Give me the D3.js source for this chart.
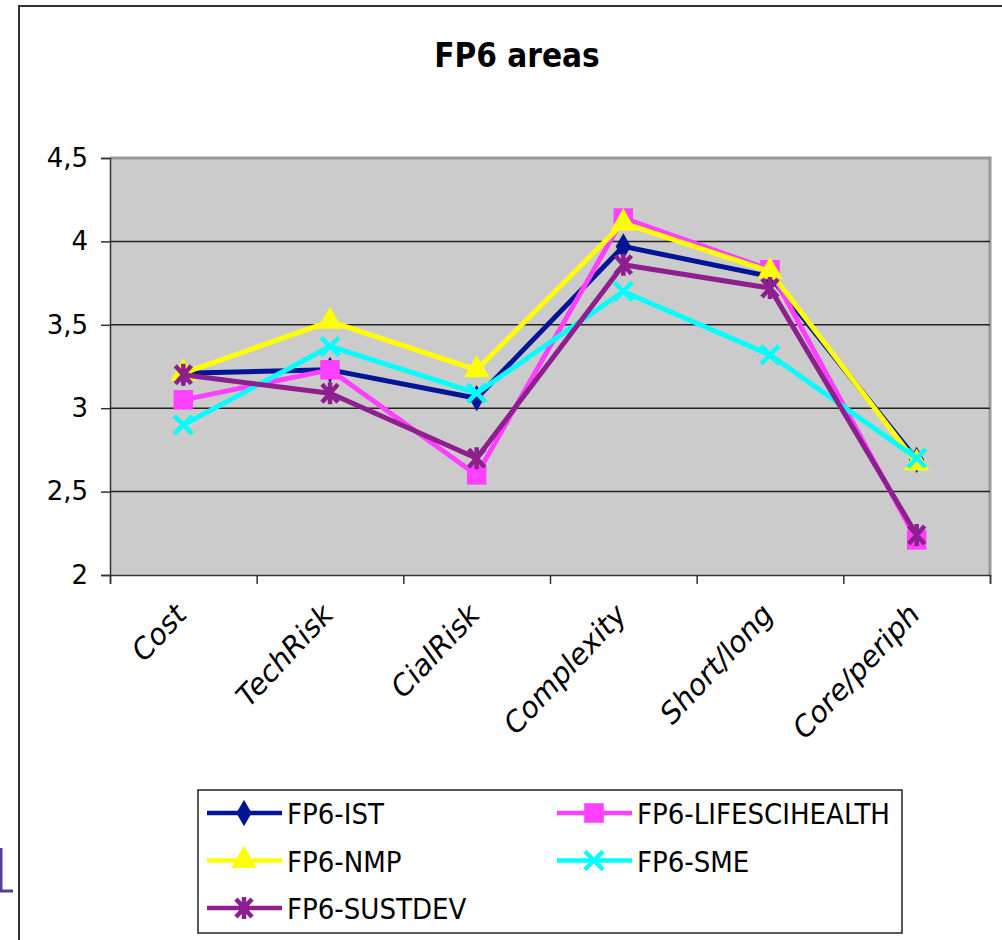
<!doctype html>
<html>
<head>
<meta charset="utf-8">
<title>FP6 areas</title>
<style>
  body { margin:0; background:#fff; }
  svg { display:block; }
  .axis path, .axis line { stroke:#333; stroke-width:1.5px; }
  .axis text { font-family:"DejaVu Sans", sans-serif; font-size:26px; fill:#000; }
  .catname { font-family:"DejaVu Sans", sans-serif; font-style:italic; font-size:29px; }
  .legend text { font-family:"DejaVu Sans Condensed", "DejaVu Sans", sans-serif; font-size:29px; }
</style>
<script src="https://d3js.org/d3.v7.min.js"></script>
</head>
<body>
<svg id="chart" width="1002" height="940"></svg>
<script>
  // data
  var categories = ["Cost", "TechRisk", "CialRisk", "Complexity", "Short/long", "Core/periph"]
  var seriesNames = ["FP6-IST", "FP6-LIFESCIHEALTH", "FP6-NMP", "FP6-SME", "FP6-SUSTDEV"]
  var ist      = [3.21, 3.23, 3.06, 3.97, 3.79, 2.69]
  var life     = [3.05, 3.23, 2.60, 4.14, 3.83, 2.21]
  var nmp      = [3.21, 3.52, 3.23, 4.11, 3.82, 2.67]
  var sme      = [2.90, 3.37, 3.09, 3.70, 3.32, 2.70]
  var sustdev  = [3.20, 3.09, 2.70, 3.86, 3.72, 2.24]
  var yTicks   = [2, 2.5, 3, 3.5, 4, 4.5]

  var colors  = ["#001496", "#ff40ff", "#ffff00", "#00ffff", "#8e1f8e"]
  var markers = ["diamond", "square", "triangle", "x", "star"]
  var values  = [ist, life, nmp, sme, sustdev]

  var svg = d3.select("#chart")
  var pLeft = 110, pRight = 990, pTop = 158, pBottom = 575

  var x = d3.scaleBand().domain(categories).range([pLeft, pRight])
  var xEdge = d3.scaleLinear().domain([0, categories.length]).range([pLeft, pRight])
  var y = d3.scaleLinear().domain([2, 4.5]).range([pBottom, pTop])

  // outer chart frame (runs off the picture on the right and bottom)
  svg.append("path")
     .attr("d", "M19,960 L19,6 L1010,6")
     .attr("fill", "none").attr("stroke", "#333").attr("stroke-width", 2)

  // bit of a letter from the slide behind
  svg.append("path")
     .attr("d", "M1,848 L1,891 L13,891")
     .attr("fill", "none").attr("stroke", "#5a3a9a").attr("stroke-width", 3)

  svg.append("text")
     .attr("x", 517).attr("y", 67)
     .attr("text-anchor", "middle")
     .style("font-family", "'DejaVu Sans Condensed', 'DejaVu Sans', sans-serif")
     .style("font-weight", "bold").style("font-size", "33px")
     .text("FP6 areas")

  // plot area
  svg.append("rect")
     .attr("x", pLeft).attr("y", pTop)
     .attr("width", pRight - pLeft).attr("height", pBottom - pTop)
     .attr("fill", "#cbcbcb")
  svg.append("path")
     .attr("d", "M" + pLeft + "," + pTop + " L" + pRight + "," + pTop + " L" + pRight + "," + pBottom)
     .attr("fill", "none").attr("stroke", "#999").attr("stroke-width", 3)

  svg.append("g")
     .selectAll("line")
     .data(yTicks.filter(function(d){ return d > 2 && d < 4.5 }))
     .enter().append("line")
     .attr("x1", pLeft).attr("x2", pRight)
     .attr("y1", function(d){ return y(d) }).attr("y2", function(d){ return y(d) })
     .attr("stroke", "#222").attr("stroke-width", 1.5)

  svg.append("g")
     .attr("class", "axis")
     .attr("transform", "translate(" + pLeft + ",0)")
     .call(d3.axisLeft(y).tickValues(yTicks).tickSize(9).tickPadding(13)
             .tickFormat(function(d){ return String(d).replace(".", ",") }))

  svg.append("g")
     .attr("class", "axis")
     .attr("transform", "translate(0," + pBottom + ")")
     .call(d3.axisBottom(xEdge).ticks(categories.length).tickSize(9).tickFormat(""))

  svg.append("g")
     .selectAll("text")
     .data(categories)
     .enter().append("text")
     .attr("class", "catname")
     .attr("text-anchor", "end")
     .attr("transform", function(d){ return "translate(" + (x(d) + x.bandwidth() / 2 - 10) + ",602) rotate(-47)" })
     .attr("dy", "0.7em")
     .text(function(d){ return d })

  function markerPath(type) {
    if (type == "diamond") return d3.symbol(d3.symbolDiamond, 200)()
    if (type == "square") return d3.symbol(d3.symbolSquare, 380)()
    if (type == "triangle") return d3.symbol(d3.symbolTriangle, 280)()
    if (type == "x") return "M-9,-9L9,9M-9,9L9,-9"
    return "M-8,-9L8,9M-8,9L8,-9M0,-11L0,11"
  }

  function drawMarker(g, type, color) {
    var stroked = (type == "x" || type == "star")
    g.append("path")
     .attr("d", markerPath(type))
     .attr("fill", stroked ? "none" : color)
     .attr("stroke", stroked ? color : "none")
     .attr("stroke-width", 4.5)
  }

  var line = d3.line()
               .x(function(d, i){ return x(categories[i]) + x.bandwidth() / 2 })
               .y(function(d){ return y(d) })

  values.forEach(function(vals, s) {
    svg.append("path")
       .datum(vals)
       .attr("d", line)
       .attr("fill", "none")
       .attr("stroke", colors[s])
       .attr("stroke-width", 5)
       .attr("stroke-linejoin", "round")

    svg.append("g")
       .selectAll("g")
       .data(vals)
       .enter().append("g")
       .attr("transform", function(d, i){ return "translate(" + (x(categories[i]) + x.bandwidth() / 2) + "," + y(d) + ")" })
       .each(function(){ drawMarker(d3.select(this), markers[s], colors[s]) })
  })

  // legend
  var legend = svg.append("g").attr("class", "legend")
  legend.append("rect")
        .attr("x", 198).attr("y", 790).attr("width", 704).attr("height", 143)
        .attr("fill", "#fff").attr("stroke", "#222").attr("stroke-width", 1.5)

  seriesNames.forEach(function(name, s) {
    var gx = 207 + (s % 2) * 350
    var gy = 813 + Math.floor(s / 2) * 47.5
    var item = legend.append("g").attr("transform", "translate(" + gx + "," + gy + ")")
    item.append("line")
        .attr("x1", 0).attr("x2", 75)
        .attr("stroke", colors[s]).attr("stroke-width", 4.5)
    var m = item.append("g").attr("transform", "translate(37,0)")
    drawMarker(m, markers[s], colors[s])
    item.append("text")
        .attr("x", 80).attr("y", 11)
        .text(name)
  })
</script>
</body>
</html>
